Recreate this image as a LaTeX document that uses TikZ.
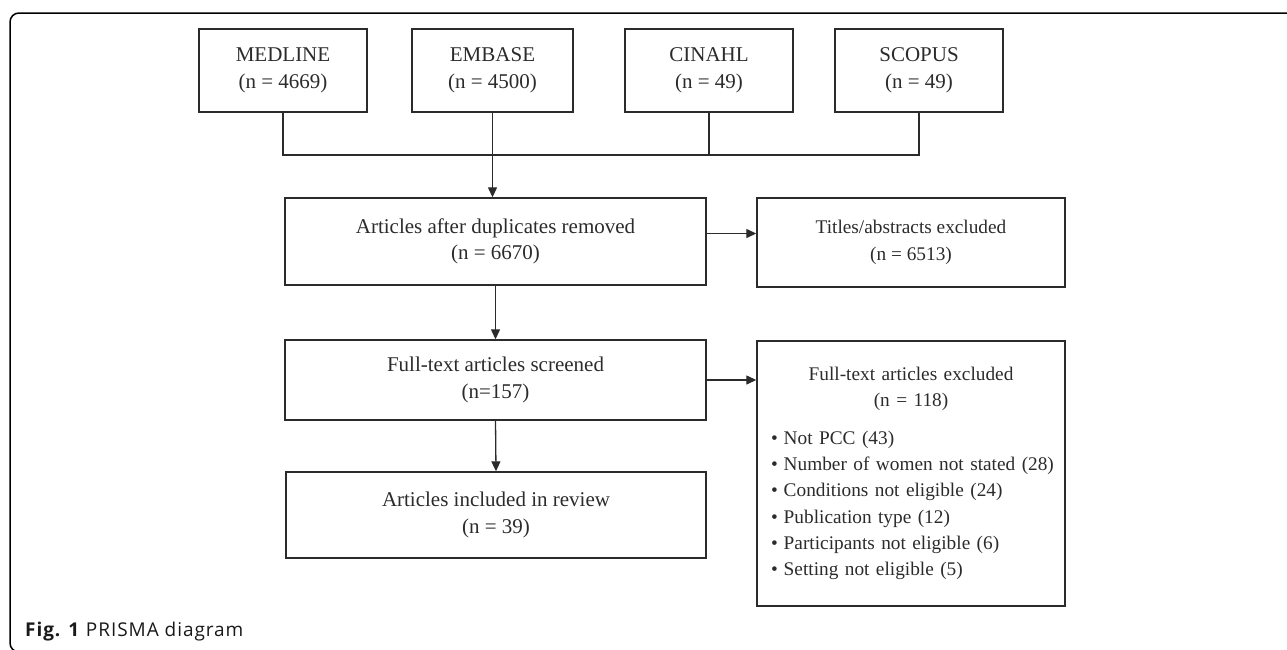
\documentclass[tikz,border=0pt]{standalone}
\usepackage{fontspec}
\setmainfont{Liberation Serif}
\newfontfamily\capfont[LetterSpace=5]{Open Sans}
\usepackage{tikz}
\usetikzlibrary{arrows.meta,positioning}
\definecolor{ink}{gray}{0.17}
\tikzstyle{box}=[draw=ink,line width=1.4pt,align=center,inner sep=0pt,text=ink,font=\fontsize{21}{26.5}\selectfont]
\tikzstyle{sidebox}=[box,minimum width=308,font=\fontsize{19.3}{26.3}\selectfont]
\tikzstyle{line} = [draw=ink,line width=1.3pt,-]

\begin{document}
\begin{tikzpicture}[x=1pt,y=-1pt]
        \tikzset{edge/.style = {line,-{Triangle[length=10pt,width=9pt]}}}
        \useasboundingbox (0,0) rectangle (1287,649);
        \clip (0,0) rectangle (1287,649);
        \draw[line width=1.5pt,rounded corners=9pt] (10,13) rectangle (1320,652);
        % sources
        \node[box,minimum width=168,minimum height=83] (medline) at (283,70.5) {MEDLINE\\(n = 4669)};
        \node[box,minimum width=161,minimum height=83] (embase) at (492.5,70.5) {EMBASE\\(n = 4500)};
        \node[box,minimum width=168,minimum height=83] (cinahl) at (709,70.5) {CINAHL\\(n = 49)};
        \node[box,minimum width=168,minimum height=83] (scopus) at (919,70.5) {SCOPUS\\(n = 49)};
        % screening
        \node[box,minimum width=421,minimum height=87] (dedup) at (495.5,241.5) {Articles after duplicates removed\\(n = 6670)};
        \node[sidebox,minimum height=89] (titles) at (911,242.5) {Titles/abstracts excluded\\(n = 6513)};
        \node[box,minimum width=421,minimum height=80] (screened) at (495.5,380) {Full-text articles screened\\(n=157)};
        \node[sidebox,minimum height=265,text width=292,align=left] (excl) at (911,473.5)
          {{\centering Full-text articles excluded\\(n = 118)\par}\vspace{11pt}
           \hspace*{6pt}\textbullet\hspace{6pt}Not PCC (43)\\
           \hspace*{6pt}\textbullet\hspace{6pt}Number of women not stated (28)\\
           \hspace*{6pt}\textbullet\hspace{6pt}Conditions not eligible (24)\\
           \hspace*{6pt}\textbullet\hspace{6pt}Publication type (12)\\
           \hspace*{6pt}\textbullet\hspace{6pt}Participants not eligible (6)\\
           \hspace*{6pt}\textbullet\hspace{6pt}Setting not eligible (5)};
        \node[box,minimum width=420,minimum height=86] (included) at (496,515) {Articles included in review\\(n = 39)};
        % connectors
        \coordinate (spine) at (0,155);
        \draw[line] (medline.south) |- (spine -| scopus.south) -- (scopus.south);
        \draw[line] (cinahl.south) -- (cinahl.south |- spine);
        \draw[edge] (embase.south) -- (embase.south |- dedup.north);
        \draw[edge] ([yshift=8pt]dedup.east) -- ([yshift=8pt]dedup.east -| titles.west);
        \draw[edge] (dedup.south) -- (screened.north);
        \draw[edge] (screened.east) -- (screened.east -| excl.west);
        \draw[edge] (screened.south) -- (included.north);
        % caption
        \node[anchor=base west,inner sep=0pt,font=\capfont\fontsize{19}{22}\selectfont,text=black!90] (caption) at (25,636) {\textbf{Fig. 1} PRISMA diagram};
      \end{tikzpicture}
\end{document}
